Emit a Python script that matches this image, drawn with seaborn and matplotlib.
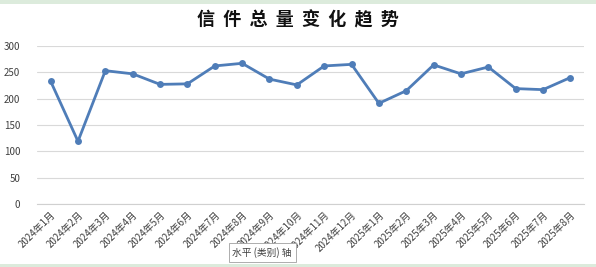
import matplotlib
matplotlib.use("Agg")
import matplotlib.pyplot as plt
import seaborn as sns
import pandas as pd
import numpy as np
from matplotlib.ticker import FixedLocator

months = ["2024年1月", "2024年2月", "2024年3月", "2024年4月", "2024年5月", "2024年6月",
          "2024年7月", "2024年8月", "2024年9月", "2024年10月", "2024年11月", "2024年12月",
          "2025年1月", "2025年2月", "2025年3月", "2025年4月", "2025年5月", "2025年6月",
          "2025年7月", "2025年8月"]
values = [233, 119, 253, 247, 227, 228, 262, 267, 237, 226, 262, 265,
          191, 215, 264, 247, 260, 219, 217, 240]
yticks = [0, 50, 100, 150, 200, 250, 300]

sns.set_style("white")
plt.rcParams['font.family'] = ['Noto Sans CJK SC', 'DejaVu Sans']

fig = plt.figure(figsize=(5.96, 2.67), dpi=100)
ax = fig.add_axes([0.062, 0.236, 0.918, 0.592])

df = pd.DataFrame({"month": months, "value": values, "pos": np.arange(len(months))})
sns.lineplot(data=df, x="pos", y="value", ax=ax, color="#4F7DB8", linewidth=2.0,
             marker="o", markersize=5, markeredgewidth=0, sort=False)

ax.set_xlim(-0.5, len(months) - 0.5)
ax.set_ylim(0, 300)
ax.set_yticks(yticks)
ax.set_yticklabels([str(v) for v in yticks], fontsize=7, color="#404040")
ax.set_xticks(np.arange(len(months)))
ax.set_xticklabels(months, rotation=45, ha="right", rotation_mode="anchor",
                   fontsize=7, color="#404040")
ax.xaxis.set_minor_locator(FixedLocator(np.arange(len(months) + 1) - 0.5))
ax.tick_params(axis="x", which="major", length=0, pad=4)
ax.tick_params(axis="x", which="minor", length=3, color="#d0d0d0", width=0.8, direction="out")
ax.tick_params(axis="y", length=0, pad=12)
ax.grid(axis="y", color="#d9d9d9", linewidth=0.8)
ax.set_axisbelow(True)
for s in ["top", "right", "left"]:
    ax.spines[s].set_visible(False)
ax.spines["bottom"].set_color("#d0d0d0")
ax.set_xlabel("")
ax.set_ylabel("")

fig.text(0.5, 0.925, "信  件  总  量  变  化  趋  势", ha="center", va="center",
         fontsize=13, color="#111111", fontweight="bold")

# tooltip box
fig.text(0.39, 0.055, "水平 (类别) 轴", ha="left", va="center", fontsize=7,
         color="#404040",
         bbox=dict(boxstyle="square,pad=0.4", facecolor="white", edgecolor="#a0a0a0", linewidth=0.6))

# spreadsheet green strips
fig.patches.append(plt.Rectangle((0, 0.985), 1, 0.015, transform=fig.transFigure,
                                 facecolor="#dcebdc", edgecolor="none"))
fig.patches.append(plt.Rectangle((0, 0), 1, 0.012, transform=fig.transFigure,
                                 facecolor="#dcebdc", edgecolor="none"))

fig.savefig("out.png", dpi=100)
